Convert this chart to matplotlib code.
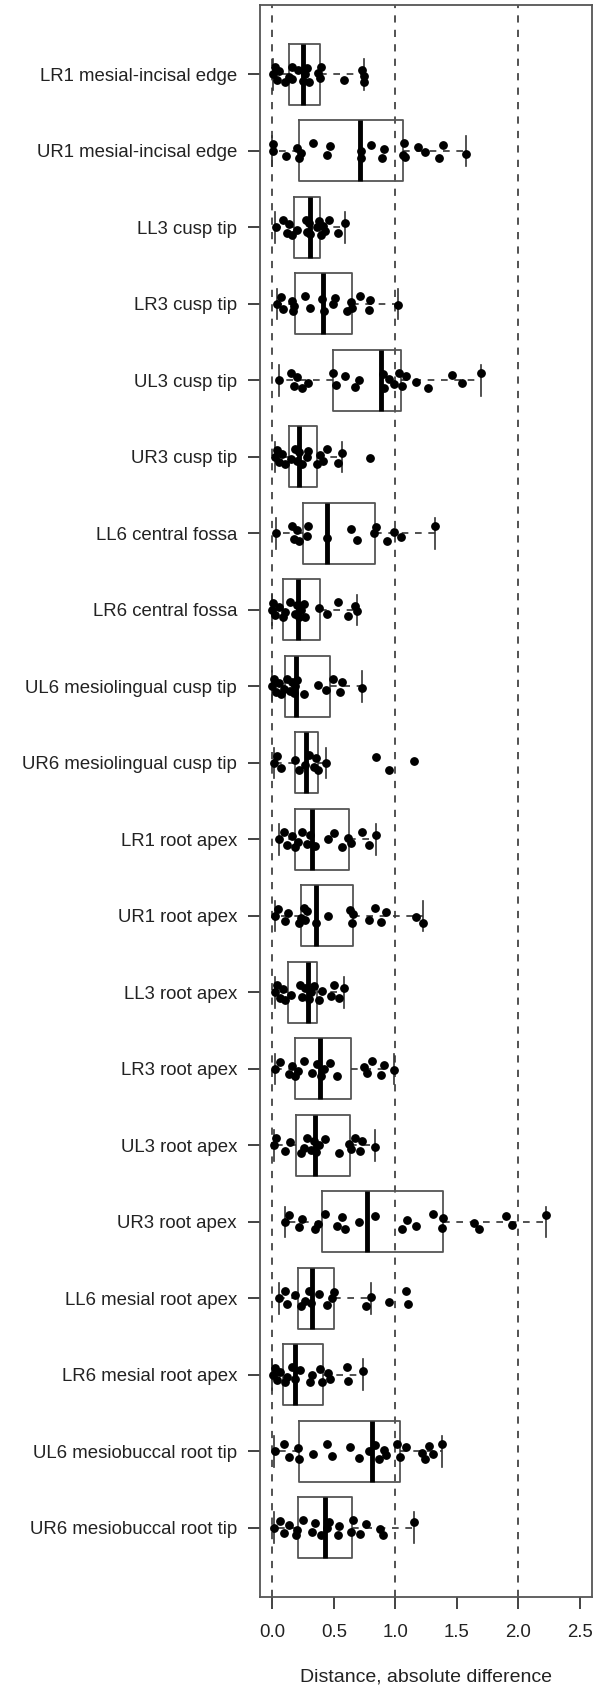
import numpy as np
import matplotlib
matplotlib.use('Agg')
import matplotlib.pyplot as plt

plt.rcParams['font.family'] = ['Liberation Sans', 'DejaVu Sans']

# landmark names, top to bottom
labels = ['LR1 mesial-incisal edge', 'UR1 mesial-incisal edge', 'LL3 cusp tip', 'LR3 cusp tip',
          'UL3 cusp tip', 'UR3 cusp tip', 'LL6 central fossa', 'LR6 central fossa',
          'UL6 mesiolingual cusp tip', 'UR6 mesiolingual cusp tip', 'LR1 root apex', 'UR1 root apex',
          'LL3 root apex', 'LR3 root apex', 'UL3 root apex', 'UR3 root apex',
          'LL6 mesial root apex', 'LR6 mesial root apex', 'UL6 mesiobuccal root tip',
          'UR6 mesiobuccal root tip']

# box stats
q1 = [0.136, 0.217, 0.179, 0.185, 0.492, 0.136, 0.253, 0.084, 0.106, 0.188,
      0.188, 0.236, 0.128, 0.188, 0.193, 0.405, 0.209, 0.084, 0.215, 0.207]
med = [0.253, 0.715, 0.307, 0.41, 0.886, 0.217, 0.443, 0.209, 0.193, 0.277,
       0.323, 0.356, 0.291, 0.386, 0.345, 0.766, 0.323, 0.182, 0.807, 0.432]
q3 = [0.386, 1.06, 0.386, 0.647, 1.049, 0.367, 0.837, 0.386, 0.473, 0.372,
      0.622, 0.658, 0.364, 0.636, 0.628, 1.391, 0.5, 0.413, 1.038, 0.644]
whislo = [0.008, 0.0, 0.022, 0.035, 0.052, 0.022, 0.027, 0.0, 0.0, 0.011,
          0.052, 0.024, 0.019, 0.019, 0.011, 0.101, 0.052, 0.0, 0.011, 0.011]
whishi = [0.745, 1.573, 0.592, 1.019, 1.696, 0.565, 1.321, 0.69, 0.726, 0.44,
          0.84, 1.228, 0.582, 0.989, 0.832, 2.226, 0.799, 0.736, 1.378, 1.152]

# individual observations
points = [
    [0.008, 0.022, 0.035, 0.054, 0.103, 0.139, 0.158, 0.16, 0.212, 0.253, 0.266, 0.285, 0.302,
     0.375, 0.389, 0.394, 0.579, 0.728, 0.742, 0.747],
    [0.003, 0.008, 0.109, 0.198, 0.217, 0.234, 0.329, 0.443, 0.47, 0.72, 0.723, 0.802, 0.891,
     0.905, 1.06, 1.068, 1.082, 1.182, 1.245, 1.353, 1.389, 1.573],
    [0.027, 0.09, 0.117, 0.139, 0.158, 0.198, 0.272, 0.285, 0.302, 0.307, 0.367, 0.383, 0.394,
     0.416, 0.429, 0.465, 0.538, 0.592],
    [0.035, 0.068, 0.084, 0.158, 0.171, 0.179, 0.266, 0.307, 0.408, 0.424, 0.492, 0.511, 0.611,
     0.639, 0.649, 0.715, 0.783, 0.796, 1.019],
    [0.052, 0.155, 0.179, 0.201, 0.242, 0.291, 0.492, 0.514, 0.595, 0.671, 0.704, 0.902, 0.908,
     0.948, 0.989, 1.03, 1.052, 1.09, 1.171, 1.266, 1.465, 1.546, 1.696],
    [0.022, 0.035, 0.057, 0.076, 0.103, 0.152, 0.185, 0.198, 0.217, 0.239, 0.285, 0.293, 0.361,
     0.389, 0.41, 0.443, 0.538, 0.565, 0.796],
    [0.027, 0.158, 0.179, 0.198, 0.22, 0.285, 0.293, 0.443, 0.639, 0.688, 0.829, 0.842, 0.932,
     0.992, 1.049, 1.321],
    [0.0, 0.005, 0.024, 0.052, 0.084, 0.1, 0.147, 0.188, 0.201, 0.22, 0.236, 0.255, 0.264,
     0.383, 0.446, 0.535, 0.617, 0.671, 0.69],
    [0.0, 0.011, 0.03, 0.052, 0.073, 0.092, 0.12, 0.147, 0.16, 0.174, 0.188, 0.201, 0.255,
     0.372, 0.438, 0.495, 0.554, 0.568, 0.726],
    [0.011, 0.038, 0.073, 0.188, 0.215, 0.269, 0.296, 0.337, 0.356, 0.372, 0.44, 0.845, 0.948,
     1.152],
    [0.052, 0.092, 0.12, 0.16, 0.188, 0.209, 0.242, 0.283, 0.31, 0.345, 0.454, 0.5, 0.563,
     0.617, 0.636, 0.726, 0.785, 0.84],
    [0.024, 0.046, 0.101, 0.128, 0.215, 0.236, 0.255, 0.269, 0.283, 0.356, 0.454, 0.628, 0.644,
     0.655, 0.785, 0.834, 0.88, 0.927, 1.171, 1.228],
    [0.019, 0.038, 0.065, 0.084, 0.106, 0.155, 0.228, 0.242, 0.269, 0.296, 0.318, 0.337, 0.378,
     0.405, 0.481, 0.5, 0.546, 0.582],
    [0.024, 0.065, 0.133, 0.16, 0.182, 0.209, 0.255, 0.323, 0.364, 0.4, 0.418, 0.473, 0.527,
     0.745, 0.772, 0.813, 0.88, 0.908, 0.989],
    [0.011, 0.03, 0.106, 0.147, 0.236, 0.255, 0.283, 0.318, 0.337, 0.356, 0.383, 0.427, 0.546,
     0.622, 0.636, 0.671, 0.717, 0.731, 0.832],
    [0.101, 0.139, 0.22, 0.242, 0.351, 0.372, 0.432, 0.527, 0.568, 0.595, 0.704, 0.832, 1.057,
     1.098, 1.171, 1.31, 1.383, 1.391, 1.641, 1.682, 1.9, 1.948, 2.226],
    [0.052, 0.1, 0.12, 0.188, 0.236, 0.269, 0.296, 0.318, 0.383, 0.446, 0.486, 0.5, 0.758,
     0.799, 0.948, 1.084, 1.106],
    [0.005, 0.019, 0.038, 0.065, 0.106, 0.12, 0.16, 0.188, 0.228, 0.31, 0.323, 0.391, 0.405,
     0.454, 0.473, 0.609, 0.617, 0.736],
    [0.019, 0.092, 0.133, 0.209, 0.215, 0.329, 0.446, 0.486, 0.628, 0.709, 0.785, 0.834, 0.867,
     0.908, 0.921, 1.016, 1.035, 1.084, 1.22, 1.239, 1.274, 1.31, 1.378],
    [0.011, 0.065, 0.092, 0.133, 0.193, 0.201, 0.247, 0.323, 0.351, 0.4, 0.446, 0.459, 0.535,
     0.546, 0.636, 0.655, 0.717, 0.758, 0.872, 0.9, 1.152],
]

xticks = [0.0, 0.5, 1.0, 1.5, 2.0, 2.5]

# small fixed vertical jitter pattern for the strip points
jit = [0.0, -0.09, 0.07, -0.04, 0.1, 0.03, -0.1, 0.06, -0.06, 0.09,
       0.0, -0.08, 0.1, -0.02, 0.05, -0.1, 0.08, -0.05, 0.02, 0.1, -0.07, 0.04, -0.09]

grey = '#555555'
n = len(labels)
pos = np.arange(1, n + 1)

fig = plt.figure(figsize=(5.95, 16.95), dpi=100)
ax = fig.add_axes([0.437, 0.0578, 0.558, 0.9392])

stats = [dict(med=med[i], q1=q1[i], q3=q3[i], whislo=whislo[i], whishi=whishi[i], fliers=[])
         for i in range(n)]
ax.bxp(stats, positions=pos, widths=0.8, capwidths=0.4, orientation='horizontal',
       showfliers=False,
       boxprops=dict(color=grey, linewidth=1.3),
       whiskerprops=dict(color='#333333', linewidth=1.2, linestyle=(0, (4, 4))),
       capprops=dict(color='#333333', linewidth=1.2),
       medianprops=dict(color='black', linewidth=3.5, solid_capstyle='butt'))

for v in [0, 1, 2]:
    ax.axvline(v, color='#444444', linestyle=(0, (4, 4)), linewidth=1.3, zorder=0)

for i in range(n):
    yv = pos[i] + np.array(jit[:len(points[i])])
    ax.plot(points[i], yv, 'o', color='black', markersize=5.3, zorder=5)

ax.set_xlim(-0.1, 2.6)
ax.set_ylim(n + 0.905, 0.095)
ax.set_yticks(pos)
ax.set_yticklabels(labels)
ax.set_xticks(xticks)
ax.set_xticklabels(['%.1f' % t for t in xticks])
ax.tick_params(axis='both', labelsize=13.4, colors='#222222', width=1.2, length=8.5)
ax.tick_params(axis='y', pad=8)
ax.tick_params(axis='x', pad=11)
for s in ax.spines.values():
    s.set_color(grey)
    s.set_linewidth(1.3)
ax.set_xlabel('Distance, absolute difference', fontsize=14, color='#222222', labelpad=20)

fig.savefig('out.png', dpi=100)
